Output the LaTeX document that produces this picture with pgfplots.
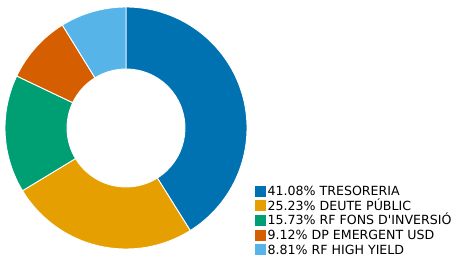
\documentclass[border=0pt]{standalone}
\usepackage{pgfplots}
\usepackage{pgfplotstable}
\pgfplotsset{compat=1.18}
\usepackage{fontspec}
\setmainfont{DejaVu Sans}
\definecolor{c1}{HTML}{0072B2}
\definecolor{c2}{HTML}{E69F00}
\definecolor{c3}{HTML}{009E73}
\definecolor{c4}{HTML}{D55E00}
\definecolor{c5}{HTML}{56B4E9}
\pgfplotstableread{
value
41.08
25.23
15.73
9.12
8.81
}\slices
\pgfplotstablegetelem{0}{value}\of\slices \let\vA\pgfplotsretval
\pgfplotstablegetelem{1}{value}\of\slices \let\vB\pgfplotsretval
\pgfplotstablegetelem{2}{value}\of\slices \let\vC\pgfplotsretval
\pgfplotstablegetelem{3}{value}\of\slices \let\vD\pgfplotsretval
\pgfplotstablegetelem{4}{value}\of\slices \let\vE\pgfplotsretval
\pgfmathsetmacro\tot{\vA+\vB+\vC+\vD+\vE}
\pgfmathsetmacro\aA{90}
\pgfmathsetmacro\aB{\aA-360*\vA/\tot}
\pgfmathsetmacro\aC{\aB-360*\vB/\tot}
\pgfmathsetmacro\aD{\aC-360*\vC/\tot}
\pgfmathsetmacro\aE{\aD-360*\vD/\tot}
\pgfmathsetmacro\aF{\aE-360*\vE/\tot}
\newcommand\slice[3]{%
  \fill[#3, draw=white, line width=0.9pt] (axis cs:126,129) ++(#1:121pt)
    arc[start angle=#1, end angle=#2, radius=121pt] -- ++(#2:-62pt)
    arc[start angle=#2, end angle=#1, radius=59pt] -- cycle;}
\begin{document}
\begin{tikzpicture}
\begin{axis}[at={(0,0)}, anchor=south west, x=1pt, y=1pt,
  xmin=0, xmax=451, ymin=0, ymax=257, hide axis, scale only axis, clip=false,
  legend image code/.code={\fill[#1, draw=none] (0pt,-4.6pt) rectangle (11.5pt,6.4pt);},
  legend style={at={(255/451,72/257)}, anchor=north west, draw=none, fill=none,
    inner sep=0pt, outer sep=0pt, row sep=0.5pt,
    font=\fontsize{12.6}{14}\selectfont,
    nodes={text height=9.5pt, text depth=2.5pt, inner sep=1.1pt}},
  legend cell align=left]
\slice{\aA}{\aB}{c1}
\slice{\aB}{\aC}{c2}
\slice{\aC}{\aD}{c3}
\slice{\aD}{\aE}{c4}
\slice{\aE}{\aF}{c5}
\addlegendimage{fill=c1, draw=none}\addlegendentry{41.08\% TRESORERIA}
\addlegendimage{fill=c2, draw=none}\addlegendentry{25.23\% DEUTE PÚBLIC}
\addlegendimage{fill=c3, draw=none}\addlegendentry{15.73\% RF FONS D\textquotesingle INVERSIÓ}
\addlegendimage{fill=c4, draw=none}\addlegendentry{9.12\% DP EMERGENT USD}
\addlegendimage{fill=c5, draw=none}\addlegendentry{8.81\% RF HIGH YIELD}
\end{axis}
\pgfresetboundingbox
\useasboundingbox (0,0) rectangle (451pt,257pt);
\end{tikzpicture}
\end{document}
